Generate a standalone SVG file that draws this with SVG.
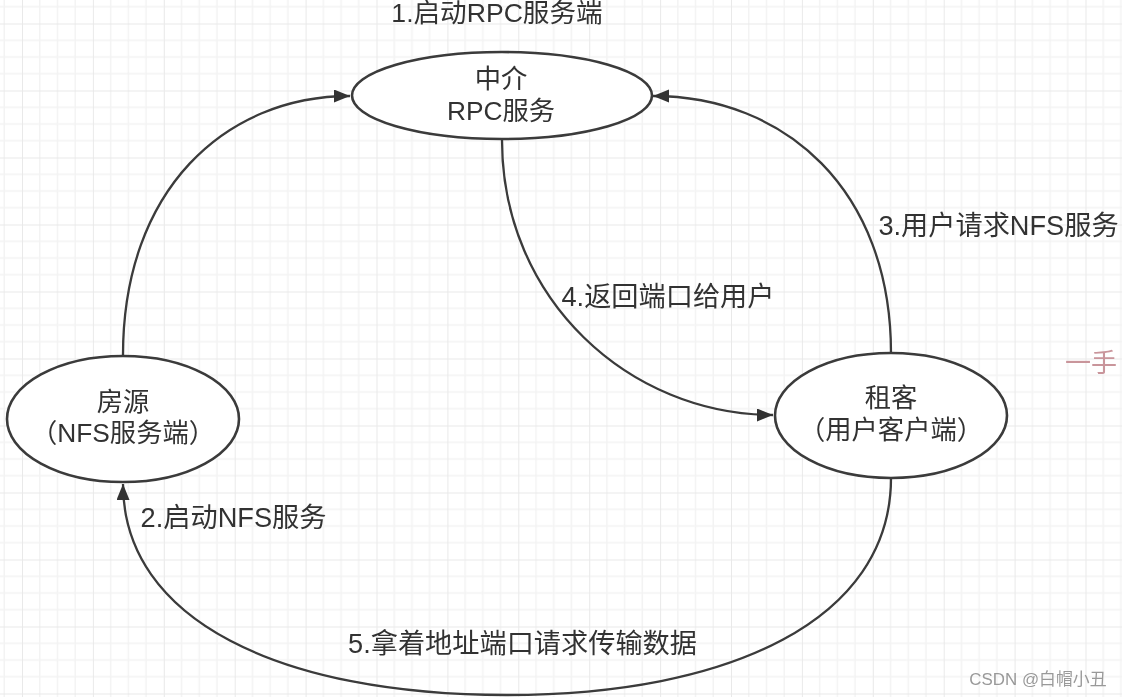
<svg xmlns="http://www.w3.org/2000/svg" width="1122" height="697" viewBox="0 0 1122 697">
<style>
text{font-family:"Liberation Sans","Noto Sans CJK SC",sans-serif;font-size:26.3px;fill:#333;text-anchor:middle}
.l{font-size:27.2px}
.n{fill:#fff;stroke:#3a3a3a;stroke-width:2.6}
.c{fill:none;stroke:#3a3a3a;stroke-width:2.3;marker-end:url(#a)}
</style>
<defs>
<filter id="soft" x="0" y="0" width="100%" height="100%"><feGaussianBlur stdDeviation="0.45"/></filter>
<marker id="a" markerUnits="userSpaceOnUse" markerWidth="18" markerHeight="15" refX="16" refY="6.5" orient="auto"><path d="M0 0L16 6.5L0 13Z" fill="#333"/></marker>
<pattern id="g" width="70.9" height="67" patternUnits="userSpaceOnUse" x="22" y="23.5">
<path d="M17.72 0V67M35.45 0V67M53.17 0V67M0 16.75H70.9M0 33.5H70.9M0 50.25H70.9" stroke="#f3f3f3" stroke-width="1.5" fill="none"/>
<path d="M0 0V67M0 0H70.9" stroke="#e9e9e9" stroke-width="2" fill="none"/>
</pattern>
</defs>
<rect width="1122" height="697" fill="#fff"/>
<g filter="url(#soft)">
<rect width="1122" height="697" fill="url(#g)"/>
<g id="connectors">
<path class="c" d="M123 355C123 190 225 96 350 96"/>
<path class="c" d="M891 353C891 190 785 96 653 96"/>
<path class="c" d="M502 140C502 300 630 415 773 415"/>
<path class="c" d="M891 478C891 620 730 695 507 695C280 695 123 620 123 484"/>
</g>
<g id="node-rpc"><ellipse class="n" cx="502" cy="95.5" rx="150" ry="43.5"/><text x="501" y="88">中介</text><text x="501" y="120">RPC服务</text></g>
<g id="node-nfs"><ellipse class="n" cx="123" cy="419" rx="116" ry="63"/><text x="123" y="411">房源</text><text x="123" y="442">（NFS服务端）</text></g>
<g id="node-client"><ellipse class="n" cx="891" cy="415.5" rx="116" ry="62.5"/><text x="891" y="407">租客</text><text x="891" y="439">（用户客户端）</text></g>
<g id="labels">
<text class="l" x="497" y="22" style="font-size:26.6px">1.启动RPC服务端</text>
<text class="l" x="998.5" y="235">3.用户请求NFS服务</text>
<text class="l" x="668" y="306">4.返回端口给用户</text>
<text class="l" x="233.5" y="527">2.启动NFS服务</text>
<text class="l" x="522.5" y="653">5.拿着地址端口请求传输数据</text>
<text x="1038" y="685" style="font-size:16.9px;fill:#999">CSDN @白帽小丑</text>
<text x="1065" y="372" style="font-size:26px;fill:#c9959b;text-anchor:start">一手</text>
</g>
</g>
</svg>
